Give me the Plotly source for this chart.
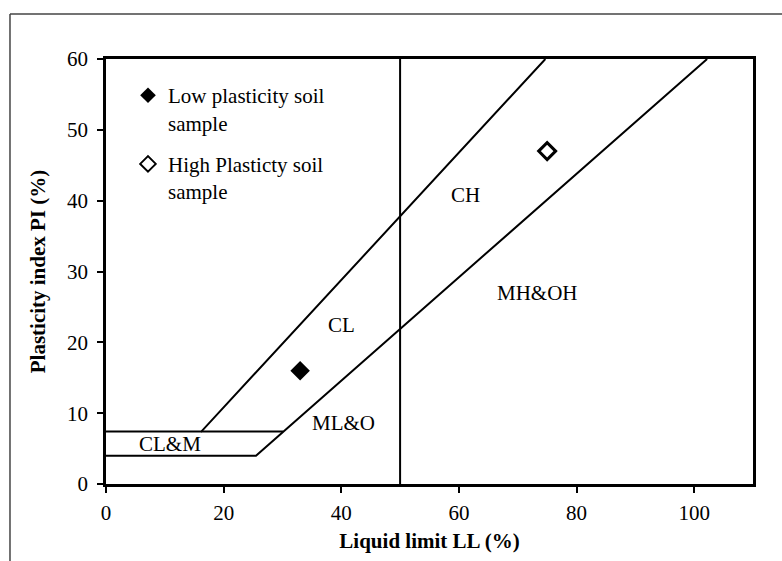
import plotly.graph_objects as go

# Data
low_ll = [33]
low_pi = [16]
high_ll = [75]
high_pi = [47]

# Boundary lines of the plasticity chart (LL, PI)
upper_ll = [0, 16.2, 74.7]
upper_pi = [7.4, 7.4, 60]
hline2_ll = [16.2, 30.1]
hline2_pi = [7.4, 7.4]
a_ll = [0, 25.5, 102.2]
a_pi = [4, 4, 60]
v_ll = [50, 50]
v_pi = [0, 60]

# Region labels
region_names = ["CL&M", "ML&O", "CL", "CH", "MH&OH"]
region_ll = [10.9, 40.3, 40.0, 61.2, 73.4]
region_pi = [5.6, 8.6, 22.4, 40.8, 26.9]

FONT = "Liberation Serif, Times New Roman, serif"
FS = 21
LC = "black"

fig = go.Figure()

for xs, ys in [(upper_ll, upper_pi), (hline2_ll, hline2_pi), (a_ll, a_pi), (v_ll, v_pi)]:
    fig.add_trace(go.Scatter(x=xs, y=ys, mode="lines", line=dict(color=LC, width=2),
                             showlegend=False, hoverinfo="skip"))

fig.add_trace(go.Scatter(x=low_ll, y=low_pi, mode="markers",
                         name="Low plasticity soil<br>sample", legendgroup="a",
                         marker=dict(symbol="diamond", size=15, color="black",
                                     line=dict(color="black", width=0))))
fig.add_trace(go.Scatter(x=high_ll, y=high_pi, mode="markers",
                         name="High Plasticty soil<br>sample", legendgroup="b",
                         marker=dict(symbol="diamond", size=13, color="white",
                                     line=dict(color="black", width=3))))

for name, x, y in zip(region_names, region_ll, region_pi):
    fig.add_annotation(x=x, y=y, text=name, showarrow=False,
                       font=dict(family=FONT, size=FS, color="black"),
                       xanchor="center", yanchor="middle")

# outer frame (left and top edges visible in reference)
fig.add_shape(type="line", xref="paper", yref="paper", x0=-0.1484, x1=1.2, y0=1.1056, y1=1.1056,
              line=dict(color="#444", width=1.5))
fig.add_shape(type="line", xref="paper", yref="paper", x0=-0.1484, x1=-0.1484, y0=1.1056, y1=-0.3,
              line=dict(color="#444", width=1.5))

axis_common = dict(showline=True, linecolor="black", linewidth=2.5, mirror=True,
                   ticks="outside", ticklen=6, tickwidth=2, tickcolor="black",
                   showgrid=False, zeroline=False,
                   tickfont=dict(family=FONT, size=FS, color="black"))

fig.update_layout(
    width=782, height=561,
    margin=dict(l=106, r=29, t=59, b=77),
    paper_bgcolor="white", plot_bgcolor="white",
    font=dict(family=FONT, size=FS, color="black"),
    xaxis=dict(range=[0, 110], tickvals=[0, 20, 40, 60, 80, 100], ticklabelstandoff=2,
               title=dict(text="<b>Liquid limit LL (%)</b>", font=dict(family=FONT, size=FS), standoff=10),
               **axis_common),
    yaxis=dict(range=[0, 60], tickvals=[0, 10, 20, 30, 40, 50, 60], ticklabelstandoff=5,
               title=dict(text="<b>Plasticity index PI (%)</b>", font=dict(family=FONT, size=FS), standoff=16),
               **axis_common),
    legend=dict(x=0.034, y=0.962, xanchor="left", yanchor="top",
                bgcolor="rgba(0,0,0,0)", borderwidth=0,
                font=dict(family=FONT, size=FS, color="black"),
                tracegroupgap=11, itemsizing="constant", valign="top"),
    showlegend=True,
)

fig.write_html("out.html")
